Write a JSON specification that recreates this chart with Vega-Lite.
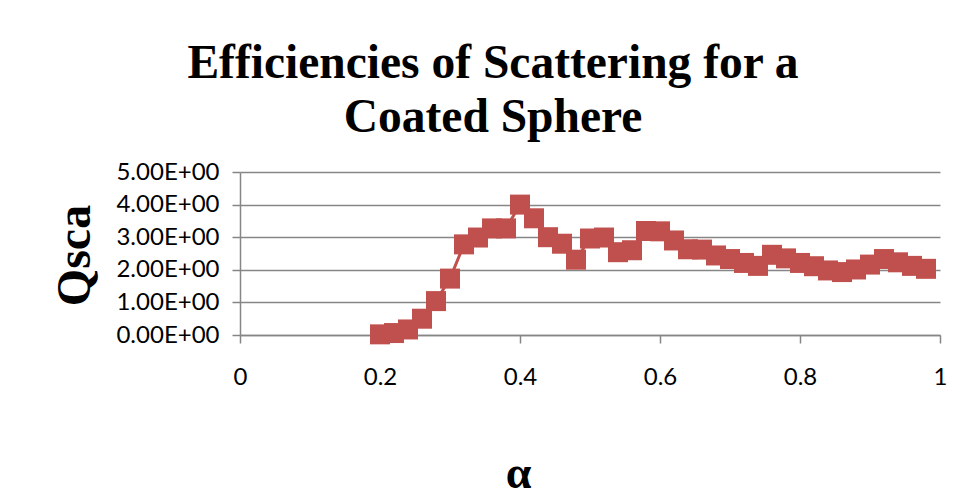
{
  "$schema": "https://vega.github.io/schema/vega-lite/v6.json",
  "width": 700,
  "height": 163,
  "autosize": {"type": "none"},
  "padding": {"left": 240, "top": 172, "right": 29, "bottom": 164},
  "background": "white",
  "title": {
    "text": ["Efficiencies of Scattering for a", "Coated Sphere"],
    "font": "Liberation Serif",
    "fontSize": 47.5,
    "fontWeight": "bold",
    "color": "black",
    "anchor": "middle",
    "dx": -97,
    "lineHeight": 54,
    "offset": 19
  },
  "data": {
    "values": [
      {"alpha": 0.20, "Qsca": 0.02},
      {"alpha": 0.22, "Qsca": 0.06},
      {"alpha": 0.24, "Qsca": 0.17},
      {"alpha": 0.26, "Qsca": 0.50},
      {"alpha": 0.28, "Qsca": 1.04},
      {"alpha": 0.30, "Qsca": 1.73},
      {"alpha": 0.32, "Qsca": 2.78},
      {"alpha": 0.34, "Qsca": 2.99},
      {"alpha": 0.36, "Qsca": 3.27},
      {"alpha": 0.38, "Qsca": 3.27},
      {"alpha": 0.40, "Qsca": 4.00},
      {"alpha": 0.42, "Qsca": 3.58},
      {"alpha": 0.44, "Qsca": 3.00},
      {"alpha": 0.46, "Qsca": 2.80},
      {"alpha": 0.48, "Qsca": 2.31},
      {"alpha": 0.50, "Qsca": 2.96},
      {"alpha": 0.52, "Qsca": 2.99},
      {"alpha": 0.54, "Qsca": 2.54},
      {"alpha": 0.56, "Qsca": 2.60},
      {"alpha": 0.58, "Qsca": 3.19},
      {"alpha": 0.60, "Qsca": 3.18},
      {"alpha": 0.62, "Qsca": 2.90},
      {"alpha": 0.64, "Qsca": 2.63},
      {"alpha": 0.66, "Qsca": 2.62},
      {"alpha": 0.68, "Qsca": 2.44},
      {"alpha": 0.70, "Qsca": 2.33},
      {"alpha": 0.72, "Qsca": 2.21},
      {"alpha": 0.74, "Qsca": 2.12},
      {"alpha": 0.76, "Qsca": 2.46},
      {"alpha": 0.78, "Qsca": 2.35},
      {"alpha": 0.80, "Qsca": 2.21},
      {"alpha": 0.82, "Qsca": 2.11},
      {"alpha": 0.84, "Qsca": 1.98},
      {"alpha": 0.86, "Qsca": 1.93},
      {"alpha": 0.88, "Qsca": 2.01},
      {"alpha": 0.90, "Qsca": 2.16},
      {"alpha": 0.92, "Qsca": 2.33},
      {"alpha": 0.94, "Qsca": 2.23},
      {"alpha": 0.96, "Qsca": 2.12},
      {"alpha": 0.98, "Qsca": 2.03}
    ]
  },
  "encoding": {
    "x": {
      "field": "alpha",
      "type": "quantitative",
      "scale": {"domain": [0, 1], "nice": false},
      "axis": {
        "title": "α",
        "titleFont": "Liberation Serif",
        "titleFontSize": 46,
        "titleFontWeight": "bold",
        "titleColor": "black",
        "titleX": 278,
        "titleY": 138,
        "titleBaseline": "middle",
        "values": [0, 0.2, 0.4, 0.6, 0.8, 1],
        "format": "~g",
        "grid": false,
        "domainColor": "#868686",
        "domainWidth": 1.5,
        "tickColor": "#868686",
        "tickWidth": 1.5,
        "tickSize": 8,
        "labelFont": "Lato",
        "labelFontSize": 24,
        "labelColor": "black",
        "labelPadding": 22,
        "labelFlush": false
      }
    },
    "y": {
      "field": "Qsca",
      "type": "quantitative",
      "scale": {"domain": [0, 5], "nice": false},
      "axis": {
        "title": "Qsca",
        "titleFont": "Liberation Serif",
        "titleFontSize": 48,
        "titleFontWeight": "bold",
        "titleColor": "black",
        "titleX": -165,
        "titleY": 83,
        "titleBaseline": "middle",
        "values": [0, 1, 2, 3, 4, 5],
        "labelExpr": "format(datum.value, '.2f') + 'E+00'",
        "grid": true,
        "gridColor": "#868686",
        "gridWidth": 1.5,
        "domainColor": "#868686",
        "domainWidth": 1.5,
        "tickColor": "#868686",
        "tickWidth": 1.5,
        "tickSize": 8,
        "labelFont": "Lato",
        "labelFontSize": 24,
        "labelColor": "black",
        "labelPadding": 13,
        "labelFlush": false
      }
    }
  },
  "layer": [
    {"mark": {"type": "line", "color": "#C0504D", "strokeWidth": 3}},
    {"mark": {"type": "point", "shape": "square", "filled": true, "size": 400, "color": "#C0504D", "opacity": 1}}
  ],
  "config": {"view": {"stroke": null}}
}
